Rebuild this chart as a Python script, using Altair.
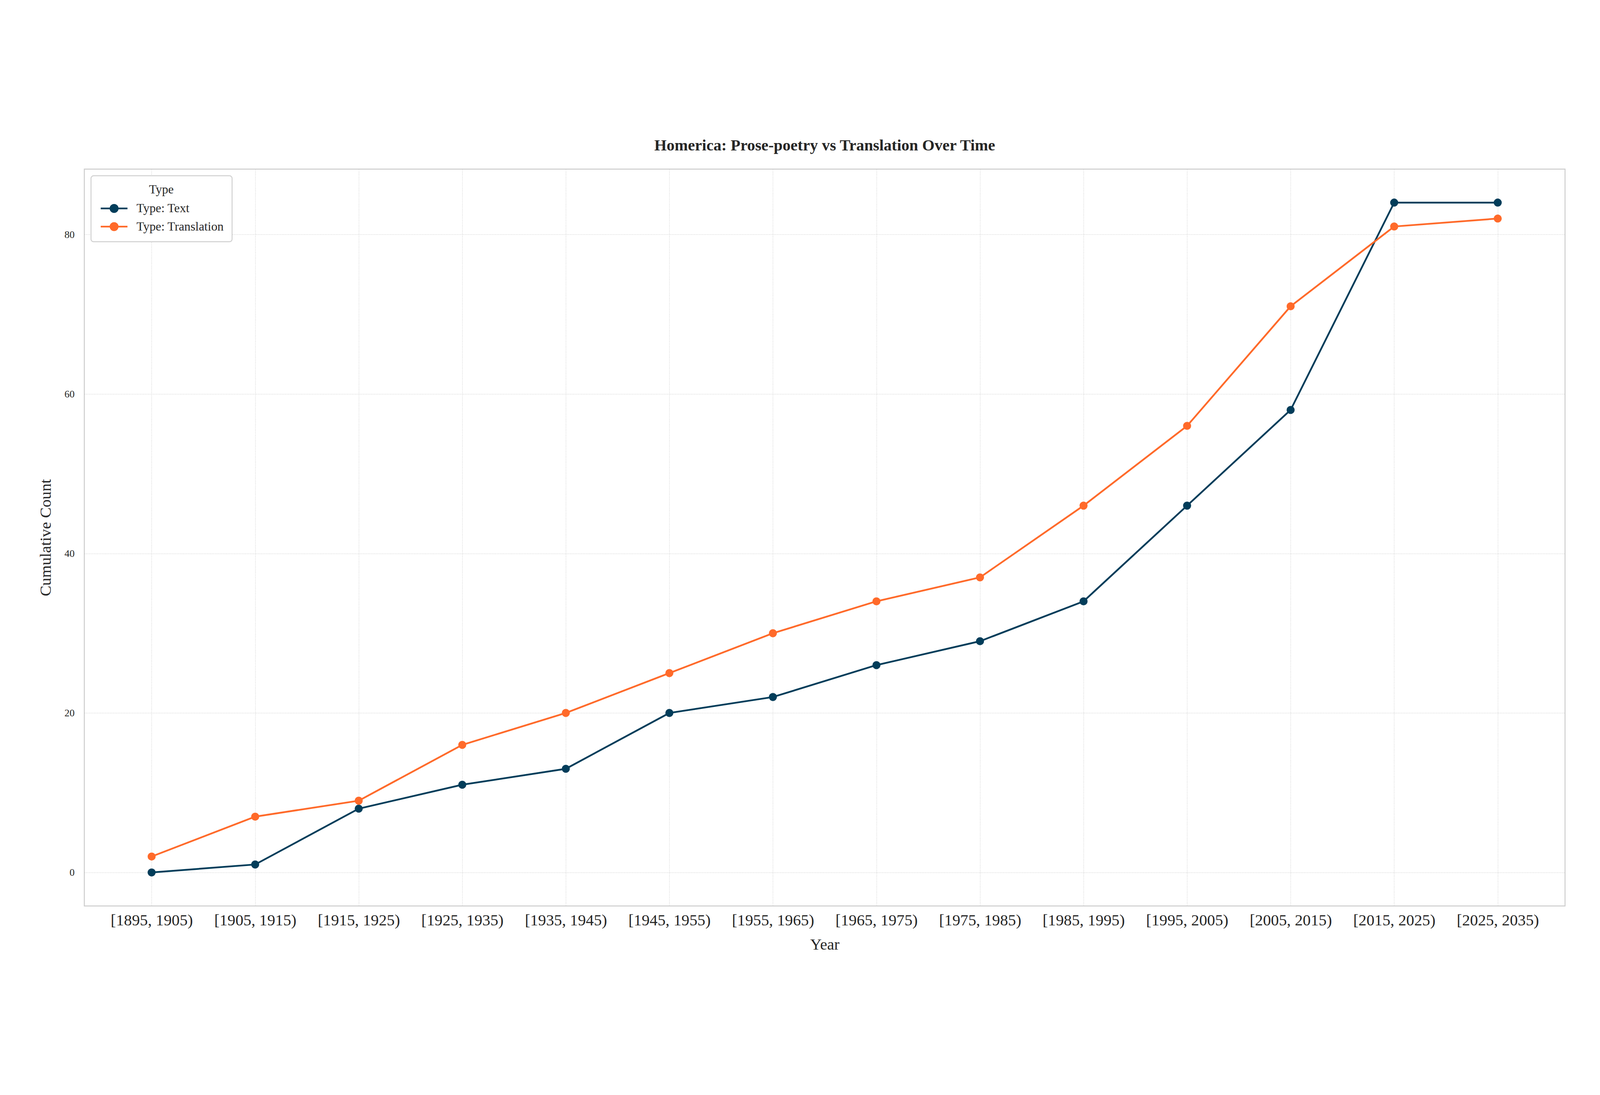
import altair as alt
import pandas as pd

periods = ["[1895, 1905)", "[1905, 1915)", "[1915, 1925)", "[1925, 1935)",
           "[1935, 1945)", "[1945, 1955)", "[1955, 1965)", "[1965, 1975)",
           "[1975, 1985)", "[1985, 1995)", "[1995, 2005)", "[2005, 2015)",
           "[2015, 2025)", "[2025, 2035)"]
text_counts = [0, 1, 8, 11, 13, 20, 22, 26, 29, 34, 46, 58, 84, 84]
translation_counts = [2, 7, 9, 16, 20, 25, 30, 34, 37, 46, 56, 71, 81, 82]
series = ["Type: Text", "Type: Translation"]
colors = ["#023d5a", "#ff6a2a"]
y_ticks = [0, 20, 40, 60, 80]

df = pd.DataFrame({
    "Year": periods * 2,
    "Count": text_counts + translation_counts,
    "Type": [series[0]] * len(periods) + [series[1]] * len(periods),
})

FONT = "Liberation Serif"
TXT = "#262626"

# legend symbol: a line with a (stroke-filled) circle in its middle
sym = ("M-2.8,0L-0.7,0M0.7,0L2.8,0"
       "M0.77,0A0.77,0.77 0 1,1 -0.77,0A0.77,0.77 0 1,1 0.77,0"
       "M0.47,0A0.47,0.47 0 1,1 -0.47,0A0.47,0.47 0 1,1 0.47,0"
       "M0.17,0A0.17,0.17 0 1,1 -0.17,0A0.17,0.17 0 1,1 0.17,0")

x_enc = alt.X("Year:N", sort=periods,
              scale=alt.Scale(type="point", padding=0.65),
              axis=alt.Axis(title="Year", labelAngle=0, labelFontSize=50,
                            labelLimit=1000,
                            titleFontSize=50, labelPadding=20, titlePadding=26,
                            titleFontWeight="normal"))
y_enc = alt.Y("Count:Q",
              scale=alt.Scale(domain=[-4.2, 88.2], nice=False, zero=False),
              axis=alt.Axis(title="Cumulative Count", values=y_ticks,
                            labelFontSize=32, titleFontSize=50,
                            labelPadding=31, titlePadding=33,
                            titleFontWeight="normal"))

color_scale = alt.Scale(domain=series, range=colors)

lines = alt.Chart(df).mark_line(strokeWidth=5.5).encode(
    x=x_enc, y=y_enc,
    color=alt.Color("Type:N", scale=color_scale, sort=series,
                    legend=alt.Legend(
                        title="Type", orient="top-left", offset=21,
                        symbolType=sym, symbolSize=900, symbolStrokeWidth=5,
                        symbolOffset=28, labelOffset=51, labelLimit=600,
                        labelFontSize=39, labelColor=TXT, labelFont=FONT,
                        titleFontSize=39, titleFontWeight="normal",
                        titleColor=TXT, titleFont=FONT, titleAnchor="middle",
                        titleAlign="center", titlePadding=19, rowPadding=12,
                        padding=25, strokeColor="#d0d0d0", fillColor="white",
                        cornerRadius=8)),
)

points = alt.Chart(df).mark_circle(size=640, opacity=1).encode(
    x=x_enc, y=y_enc,
    fill=alt.Fill("Type:N", scale=color_scale, sort=series, legend=None),
)

chart = alt.layer(lines, points).properties(
    width=4650, height=2313,
    title=alt.Title("Homerica: Prose-poetry vs Translation Over Time",
                    fontSize=50, font=FONT, fontWeight="bold", color=TXT,
                    anchor="middle", offset=48),
    autosize=alt.AutoSizeParams(type="none"),
    padding={"left": 255, "top": 207, "right": 100, "bottom": 250},
).configure(font=FONT).configure_view(
    stroke="#cccccc", strokeWidth=3
).configure_axis(
    domain=False, ticks=False, grid=True, gridColor="#c4c4c4",
    gridDash=[2, 3], gridWidth=1.5, labelColor=TXT, titleColor=TXT,
    labelFont=FONT, titleFont=FONT
).configure_legend(strokeWidth=3)

chart.save("out.html", embed_options={"renderer": "svg", "actions": False})
